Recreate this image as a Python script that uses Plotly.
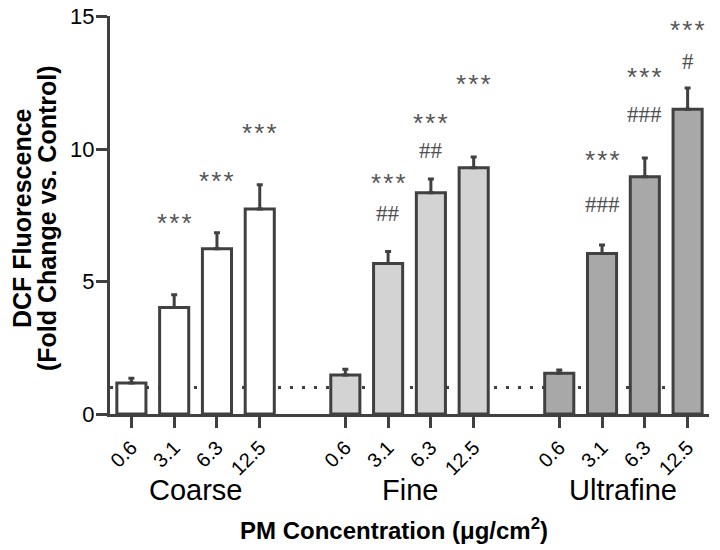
import plotly.graph_objects as go

groups = ["Coarse", "Fine", "Ultrafine"]
concentrations = ["0.6", "3.1", "6.3", "12.5"]
coarse = [1.17, 4.02, 6.24, 7.74]
coarse_err = [0.18, 0.48, 0.60, 0.91]
fine = [1.47, 5.68, 8.35, 9.29]
fine_err = [0.22, 0.45, 0.52, 0.41]
ultrafine = [1.54, 6.06, 8.95, 11.50]
ultrafine_err = [0.12, 0.32, 0.71, 0.80]
control_level = 1.0

# significance labels per bar (upper row "***", lower row "#")
star_labels = [["", "***", "***", "***"], ["", "***", "***", "***"], ["", "***", "***", "***"]]
star_y = [[None, 7.2, 8.8, 10.6], [None, 8.7, 11.0, 12.45], [None, 9.6, 12.7, 14.5]]
hash_labels = [["", "", "", ""], ["", "##", "##", ""], ["", "###", "###", "#"]]
hash_y = [[None, None, None, None], [None, 7.55, 9.96, None], [None, 7.9, 11.3, 13.3]]

fills = ["#ffffff", "#d3d3d3", "#a8a8a8"]
edge = "#404040"
font_family = "Arial, Liberation Sans, sans-serif"

values = [coarse, fine, ultrafine]
errors = [coarse_err, fine_err, ultrafine_err]

# page body has an 8px margin; figure is sized to sit inside the 720x550 window
OFF = 8
W, H = 712, 542
L, R, T, B = 102, 11, 8, 136
pw, ph = W - L - R, H - T - B


def px_x(px):
    return (px - OFF - L) / pw


def px_y(py):
    return (H - B - (py - OFF)) / ph


fig = go.Figure()
tickvals, ticktext = [], []
annotations = []
for g, name in enumerate(groups):
    xs = [g * 5 + i for i in range(len(concentrations))]
    tickvals += xs
    ticktext += concentrations
    fig.add_trace(go.Bar(
        x=xs, y=values[g], width=0.68,
        marker=dict(color=fills[g], line=dict(color=edge, width=3)),
        error_y=dict(type="data", array=errors[g], arrayminus=[0] * 4,
                     symmetric=False, color=edge, thickness=3, width=3),
        showlegend=False, name=name,
    ))
    for i, x in enumerate(xs):
        if star_labels[g][i]:
            annotations.append(dict(x=x, y=star_y[g][i], text="\u200a".join(star_labels[g][i]),
                                    showarrow=False,
                                    font=dict(family=font_family, size=26, color="#555555"),
                                    xref="x", yref="y", yanchor="middle"))
        if hash_labels[g][i]:
            annotations.append(dict(x=x, y=hash_y[g][i], text=hash_labels[g][i], showarrow=False,
                                    font=dict(family="Liberation Serif, Times New Roman, serif",
                                              size=23, color="#505050"),
                                    xref="x", yref="y", yanchor="middle"))
    annotations.append(dict(x=g * 5 + 1.5, y=px_y(490), xref="x", yref="paper", text=name,
                            showarrow=False, yanchor="middle",
                            font=dict(family=font_family, size=29, color="#000000")))

annotations.append(dict(x=px_x(394), y=px_y(529), xref="paper", yref="paper",
                        text="<b>PM Concentration (\u03bcg/cm<sup>2</sup>)</b>",
                        showarrow=False, yanchor="middle", xanchor="center",
                        font=dict(family=font_family, size=24, color="#000000")))
annotations.append(dict(x=px_x(22), y=px_y(218), xref="paper", yref="paper",
                        text="<b>DCF Fluorescence</b>", textangle=-90,
                        showarrow=False, yanchor="middle", xanchor="center",
                        font=dict(family=font_family, size=25, color="#000000")))
annotations.append(dict(x=px_x(47), y=px_y(218), xref="paper", yref="paper",
                        text="<b>(Fold Change vs. Control)</b>", textangle=-90,
                        showarrow=False, yanchor="middle", xanchor="center",
                        font=dict(family=font_family, size=25, color="#000000")))

fig.update_layout(
    width=W, height=H,
    margin=dict(l=L, r=R, t=T, b=B),
    plot_bgcolor="white", paper_bgcolor="white",
    annotations=annotations,
    shapes=[dict(type="line", xref="paper", x0=0, x1=1, yref="y",
                 y0=control_level, y1=control_level, layer="below",
                 line=dict(color=edge, width=3, dash="3px,9px"))],
)
fig.update_xaxes(
    range=[-0.5, 13.5], tickvals=tickvals, ticktext=ticktext, tickangle=-45,
    showline=True, linecolor=edge, linewidth=3, ticks="outside", ticklen=11,
    tickwidth=3, tickcolor=edge, showgrid=False, zeroline=False, automargin=False,
    tickfont=dict(family=font_family, size=20, color="#000000"),
)
fig.update_yaxes(
    range=[0, 15.02], tickvals=[0, 5, 10, 15],
    showline=True, linecolor=edge, linewidth=3, ticks="outside", ticklen=11,
    tickwidth=3, tickcolor=edge, showgrid=False, zeroline=False, automargin=False,
    ticklabeloverflow="allow", ticklabelstandoff=-3,
    tickfont=dict(family=font_family, size=22, color="#000000"),
    tickprefix="<b>", ticksuffix="</b>",
)

fig.write_html("out.html")
